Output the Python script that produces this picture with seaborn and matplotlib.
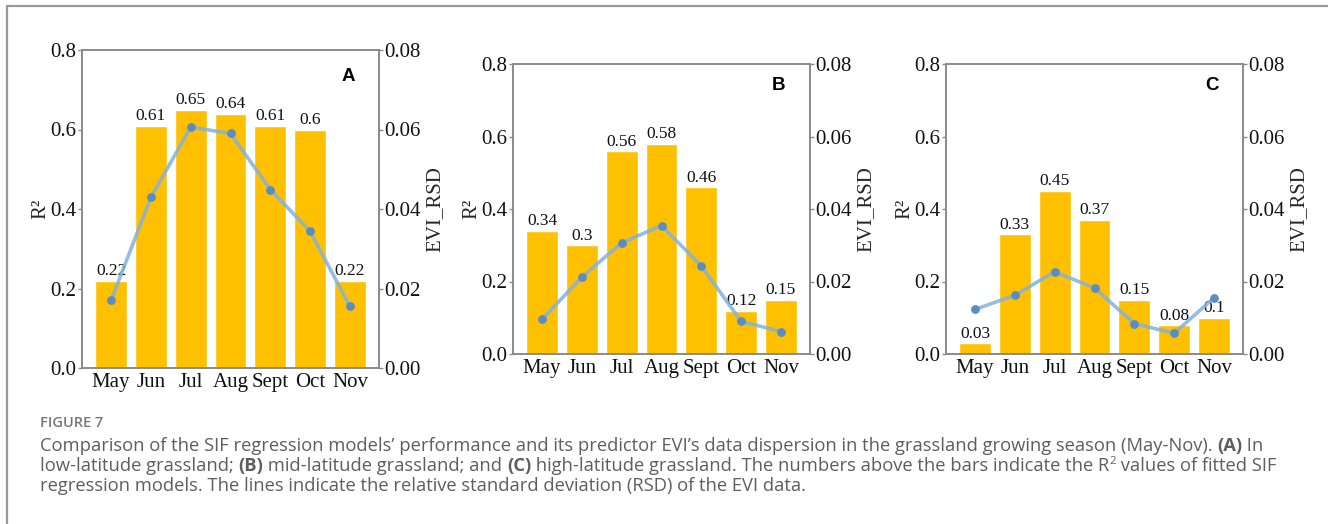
import numpy as np
import pandas as pd
import matplotlib
matplotlib.use("Agg")
import matplotlib.pyplot as plt
from matplotlib.lines import Line2D
from matplotlib.ticker import FormatStrFormatter
import seaborn as sns

months = ["May", "Jun", "Jul", "Aug", "Sept", "Oct", "Nov"]
panel_letters = ["A", "B", "C"]
r2_A = [0.22, 0.61, 0.65, 0.64, 0.61, 0.60, 0.22]
r2_B = [0.34, 0.30, 0.56, 0.58, 0.46, 0.12, 0.15]
r2_C = [0.03, 0.33, 0.45, 0.37, 0.15, 0.08, 0.10]
rsd_A = [0.0170, 0.0429, 0.0606, 0.0590, 0.0449, 0.0344, 0.0155]
rsd_B = [0.0096, 0.0212, 0.0307, 0.0354, 0.0243, 0.0090, 0.0062]
rsd_C = [0.0123, 0.0162, 0.0227, 0.0182, 0.0084, 0.0057, 0.0155]
r2_ticks = [0.0, 0.2, 0.4, 0.6, 0.8]
rsd_ticks = [0.00, 0.02, 0.04, 0.06, 0.08]

sns.set_style("white")
plt.rcParams["font.family"] = ["Liberation Serif", "DejaVu Serif"]

W, H = 1328, 524
fig = plt.figure(figsize=(W / 100, H / 100), dpi=100)

BAR = "#FFC000"
LINE = "#82B2DE"
MARK = "#5B8CC4"
SPINE = "#8a8a8a"

boxes = [
    (82, 50, 379, 368),
    (513, 64, 810, 354),
    (946, 64, 1243, 354),
]
series = [(r2_A, rsd_A), (r2_B, rsd_B), (r2_C, rsd_C)]

for (l, t, r, b), (r2, rsd), letter in zip(boxes, series, panel_letters):
    ax = fig.add_axes([l / W, 1 - b / H, (r - l) / W, (b - t) / H])
    df = pd.DataFrame({"month": months, "r2": r2, "rsd": rsd, "i": np.arange(len(months))})
    sns.barplot(data=df, x="month", y="r2", color=BAR, saturation=1, width=0.8, ax=ax)
    ax.bar_label(ax.containers[0], labels=[f"{v:g}" for v in r2], padding=1,
                 fontsize=12.5, color="#111111")
    ax.set_xlim(-0.73, len(months) - 1 + 0.73)
    ax.set_ylim(0, 0.8)
    ax.set_yticks(r2_ticks)
    ax.yaxis.set_major_formatter(FormatStrFormatter("%.1f"))
    ax.set_xlabel("")
    ax.set_ylabel("R²", fontsize=15, labelpad=0)
    ax.tick_params(axis="both", labelsize=15, colors=SPINE, labelcolor="#111111",
                   length=3, width=1, pad=1, direction="out")
    ax.tick_params(axis="x", length=2.5, width=0.8, pad=1)
    for s in ax.spines.values():
        s.set_color(SPINE)
        s.set_linewidth(1.2)

    ax2 = ax.twinx()
    sns.lineplot(data=df, x="i", y="rsd", ax=ax2, color=LINE, lw=2.6, alpha=0.85)
    sns.scatterplot(data=df, x="i", y="rsd", ax=ax2, color=MARK, s=40,
                    edgecolor=MARK, linewidth=0, zorder=5)
    ax2.set_ylim(0, 0.08)
    ax2.set_yticks(rsd_ticks)
    ax2.yaxis.set_major_formatter(FormatStrFormatter("%.2f"))
    ax2.set_ylabel("EVI_RSD", fontsize=15, labelpad=3)
    ax2.set_xlabel("")
    ax2.tick_params(axis="y", labelsize=15, colors=SPINE, labelcolor="#111111",
                    length=3, width=1, pad=1, direction="out")
    for s in ax2.spines.values():
        s.set_color(SPINE)
        s.set_linewidth(1.2)
    ax2.set_xlim(ax.get_xlim())

    ax.text(0.895, 0.925 if letter != "A" else 0.918, letter, transform=ax.transAxes,
            ha="center", va="center", fontsize=13.5, fontweight="bold",
            family=["Liberation Sans", "DejaVu Sans"], color="#000000")

# frame lines
fig.add_artist(Line2D([7 / W, 7 / W], [0, 1 - 6 / H], transform=fig.transFigure,
                      color="#9a9a9a", lw=1.6))
fig.add_artist(Line2D([7 / W, 1], [1 - 6 / H, 1 - 6 / H], transform=fig.transFigure,
                      color="#9a9a9a", lw=1.6))

# caption
CAP = "#5e5e5e"
CAPFONT = ["Open Sans", "DejaVu Sans"]
fig.text(40 / W, 1 - 427 / H, "FIGURE 7", fontsize=10.5, color="#777777",
         family=CAPFONT, fontweight="semibold", va="baseline", ha="left")

fig.canvas.draw()
renderer = fig.canvas.get_renderer()
capsize = 13.2

def draw_line(segments, y):
    x = 40
    for txt, bold, sup in segments:
        fs = capsize * (0.62 if sup else 1.0)
        yy = y - (7 if sup else 0)
        tt = fig.text(x / W, 1 - yy / H, txt, fontsize=fs, color=CAP, family=CAPFONT,
                      fontweight="bold" if bold else "normal", va="baseline", ha="left")
        bb = tt.get_window_extent(renderer=renderer)
        x += bb.width

draw_line([
    ("Comparison of the SIF regression models\u2019 performance and its predictor EVI\u2019s data dispersion in the grassland growing season (May-Nov). ", False, False),
    ("(A)", True, False), (" In", False, False)], 451)
draw_line([
    ("low-latitude grassland; ", False, False), ("(B)", True, False),
    (" mid-latitude grassland; and ", False, False), ("(C)", True, False),
    (" high-latitude grassland. The numbers above the bars indicate the R", False, False),
    ("2", False, True), (" values of fitted SIF", False, False)], 471)
draw_line([
    ("regression models. The lines indicate the relative standard deviation (RSD) of the EVI data.", False, False)], 491)

fig.savefig("out.png", dpi=100)
